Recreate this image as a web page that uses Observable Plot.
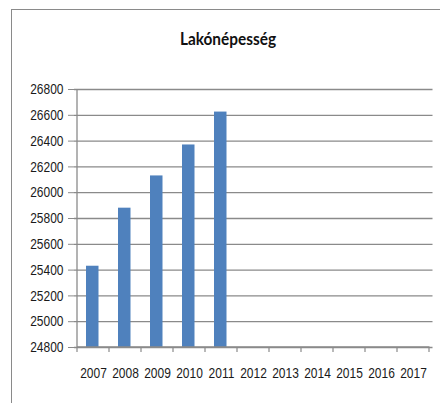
<!DOCTYPE html>
<html><head><meta charset="utf-8">
<script src="https://cdn.jsdelivr.net/npm/d3@7"></script>
<script src="https://cdn.jsdelivr.net/npm/@observablehq/plot@0.6"></script>
<style>
body{margin:0;background:#fff;}
#wrap{position:relative;width:440px;height:403px;overflow:hidden;background:#fff;}
#frame{position:absolute;left:11px;top:9px;right:-5px;bottom:-5px;border-left:1.5px solid #8a8a8a;border-top:1.5px solid #8a8a8a;}
#title{position:absolute;left:0;width:456px;top:28px;line-height:20px;text-align:center;font-family:Lato,"Open Sans",sans-serif;font-weight:bold;font-size:15.4px;color:#111;transform:scaleY(1.15);}
#chart{position:absolute;left:0;top:60px;}
</style>
</head><body>
<div id="wrap"><div id="frame"></div><div id="title">Lakónépesség</div><div id="chart"></div></div>
<script>
const years = ["2007","2008","2009","2010","2011","2012","2013","2014","2015","2016","2017"];
const population = [25430, 25880, 26130, 26370, 26625, null, null, null, null, null, null];
const yTicks = [24800, 25000, 25200, 25400, 25600, 25800, 26000, 26200, 26400, 26600, 26800];
const yDomain = [24800, 26800];

const rows = years.map((y, i) => ({year: y, value: population[i]})).filter(d => d.value != null);
const tickFont = "'Liberation Sans', Arial, sans-serif";
const gray = "#8a8a8a";

const axisLines = (index, scales, values, dim) => {
  const svg = d3.create("svg:g");
  const x = scales.x, y = scales.y;
  const bw = x.bandwidth();
  const x0 = x(years[0]), x1 = x(years[years.length - 1]) + bw;
  const yb = y(yDomain[0]), yt = y(yDomain[1]);
  svg.append("line").attr("x1", x0).attr("x2", x0).attr("y1", yt).attr("y2", yb)
    .attr("stroke", gray).attr("stroke-width", 1.3);
  svg.append("line").attr("x1", x0).attr("x2", x1 + 0.5).attr("y1", yb).attr("y2", yb)
    .attr("stroke", gray).attr("stroke-width", 1.3);
  const bounds = years.map(d => x(d)).concat([x1]);
  bounds.forEach(b => {
    svg.append("line").attr("x1", b).attr("x2", b).attr("y1", yb).attr("y2", yb + 5)
      .attr("stroke", gray).attr("stroke-width", 1.2);
  });
  return svg.node();
};

const chart = Plot.plot({
  width: 440,
  height: 343,
  marginLeft: 74,
  marginRight: 7.5,
  marginTop: 29,
  marginBottom: 56,
  style: {fontFamily: tickFont, fontSize: "12px", color: "#1a1a1a", background: "transparent"},
  x: {type: "band", domain: years, padding: 0, axis: null, label: null},
  y: {domain: yDomain, axis: null, label: null},
  marks: [
    Plot.gridY(yTicks, {stroke: gray, strokeOpacity: 1, strokeWidth: 1.3}),
    Plot.barY(rows, {x: "year", y1: () => yDomain[0], y2: "value", fill: "#4f81bd", insetLeft: 9, insetRight: 10.5}),
    Plot.axisY(yTicks, {tickSize: 6, tickPadding: 5, label: null, tickFormat: d => String(d), stroke: gray, fill: "#1a1a1a", fontSize: 12, fontFamily: tickFont}),
    Plot.axisX({tickSize: 0, tickPadding: 20, label: null, fill: "#1a1a1a", fontSize: 12, fontFamily: tickFont}),
    axisLines
  ]
});
// stretch tick labels vertically like the reference's tall, narrow digits
d3.select(chart).selectAll('g[aria-label$="tick label"] text').each(function() {
  const t = this.getAttribute("transform") || "";
  this.setAttribute("transform", t + " scale(1,1.22)");
});
document.getElementById("chart").appendChild(chart);
</script>
</body></html>
